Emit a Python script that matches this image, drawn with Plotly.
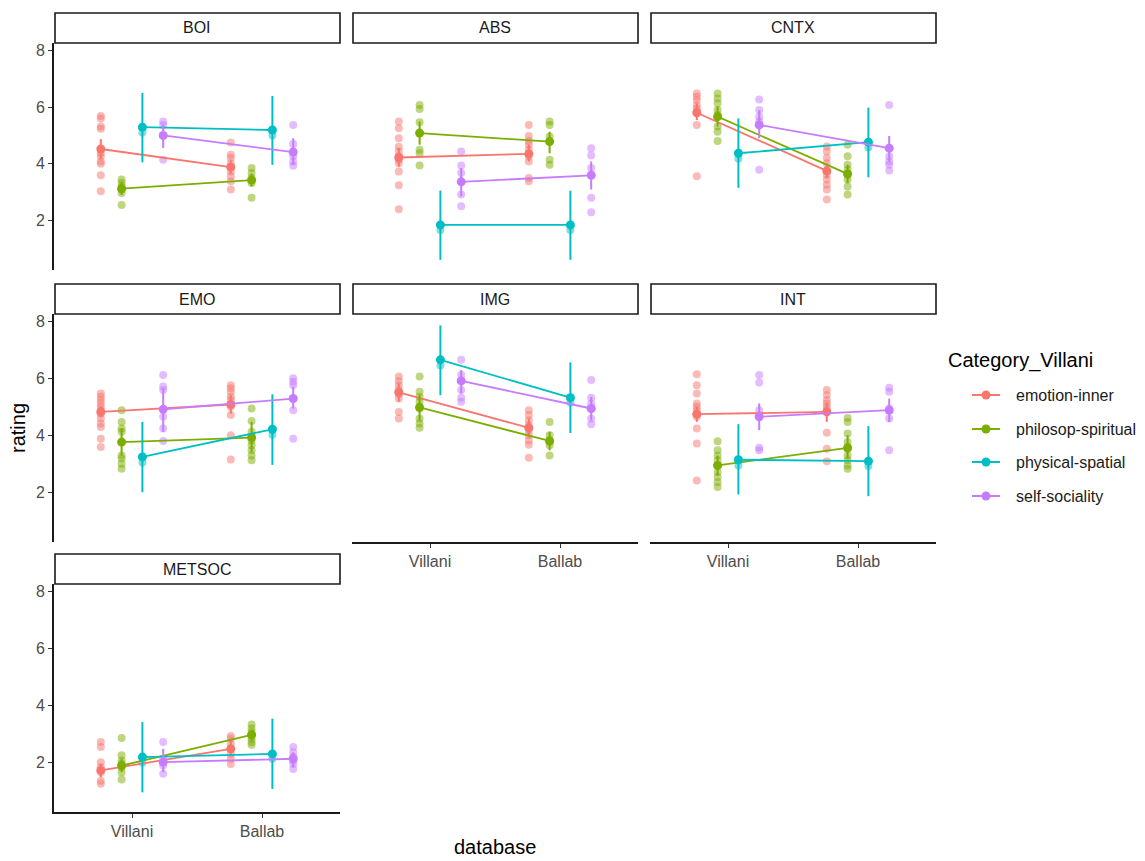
import plotly.graph_objects as go

# ---------------- data ----------------
panels = ["BOI", "ABS", "CNTX", "EMO", "IMG", "INT", "METSOC"]
databases = ["Villani", "Ballab"]
categories = ["emotion-inner", "philosop-spiritual", "physical-spatial", "self-sociality"]
colors = ["#F8766D", "#7CAE00", "#00BFC4", "#C77CFF"]
y_ticks = [2, 4, 6, 8]

# individual ratings per category: (Villani, Ballab)
BOI_ratings = {
    "emotion-inner": ([5.68, 5.60, 5.31, 5.23, 4.37, 4.26, 4.08, 4.00, 3.59, 3.03],
                      [4.75, 4.32, 4.20, 4.02, 3.90, 3.73, 3.56, 3.38, 3.09]),
    "philosop-spiritual": ([3.44, 3.32, 3.20, 3.09, 2.97, 2.54],
                           [3.85, 3.67, 3.50, 3.32, 2.80]),
    "physical-spatial": ([5.29, 5.10], [5.19, 5.00]),
    "self-sociality": ([5.49, 5.37, 4.98, 4.14],
                       [5.37, 4.70, 4.43, 4.26, 4.08, 3.93]),
}
ABS_ratings = {
    "emotion-inner": ([5.49, 5.25, 4.90, 4.60, 4.43, 4.26, 4.14, 4.02, 3.73, 3.24, 2.39],
                      [5.37, 4.98, 4.80, 4.67, 4.49, 4.26, 4.08, 3.50, 3.38]),
    "philosop-spiritual": ([6.07, 5.93, 5.46, 5.08, 4.49, 4.37, 3.94],
                           [5.49, 5.37, 4.96, 4.78, 4.14, 3.96]),
    "physical-spatial": ([1.84, 1.66], [1.84, 1.66]),
    "self-sociality": ([4.43, 3.94, 3.67, 3.36, 2.91, 2.50],
                       [4.55, 4.29, 3.85, 3.61, 2.80, 2.29]),
}
CNTX_ratings = {
    "emotion-inner": ([6.48, 6.36, 6.25, 6.07, 5.95, 5.84, 5.37, 3.56],
                      [4.61, 4.43, 4.20, 4.02, 3.73, 3.61, 3.44, 3.26, 3.09, 2.74]),
    "philosop-spiritual": ([6.48, 6.30, 6.13, 5.90, 5.72, 5.31, 5.13, 4.80],
                           [4.67, 4.26, 3.96, 3.79, 3.61, 3.44, 3.20, 2.91]),
    "physical-spatial": ([4.37, 4.18], [4.76, 4.57]),
    "self-sociality": ([6.27, 5.90, 5.66, 5.49, 5.37, 3.79],
                       [6.07, 4.55, 4.26, 4.08, 3.96, 3.76]),
}
EMO_ratings = {
    "emotion-inner": ([5.47, 5.35, 5.24, 5.12, 5.00, 4.88, 4.76, 4.59, 4.41, 4.29, 3.88, 3.59],
                      [5.76, 5.65, 5.53, 5.35, 5.24, 5.00, 4.71, 4.00, 3.15]),
    "philosop-spiritual": ([4.88, 4.47, 4.24, 4.12, 3.29, 3.18, 3.00, 2.82],
                           [4.94, 4.50, 4.12, 3.82, 3.65, 3.47, 3.29, 3.12]),
    "physical-spatial": ([3.24, 3.04], [4.21, 4.02]),
    "self-sociality": ([6.12, 5.71, 5.59, 4.65, 4.24, 3.80],
                       [6.00, 5.88, 5.76, 5.29, 4.88, 3.88]),
}
IMG_ratings = {
    "emotion-inner": ([6.06, 5.91, 5.76, 5.59, 5.45, 5.29, 4.82, 4.59],
                      [4.88, 4.71, 4.53, 4.35, 4.18, 4.00, 3.82, 3.67, 3.21]),
    "philosop-spiritual": ([6.06, 5.53, 5.35, 5.18, 4.94, 4.59, 4.41, 4.26],
                           [4.47, 4.00, 3.82, 3.65, 3.29]),
    "physical-spatial": ([6.65, 6.45], [5.32, 5.15]),
    "self-sociality": ([6.65, 6.12, 5.91, 5.59, 5.32, 5.18],
                       [5.94, 5.32, 5.12, 4.94, 4.59, 4.39]),
}
INT_ratings = {
    "emotion-inner": ([6.14, 5.76, 5.47, 5.12, 5.00, 4.88, 4.76, 4.65, 4.24, 3.71, 2.41],
                      [5.59, 5.41, 5.24, 5.12, 5.00, 4.88, 4.09, 3.53, 3.09]),
    "philosop-spiritual": ([3.79, 3.47, 3.29, 3.12, 2.94, 2.71, 2.53, 2.35, 2.18],
                           [4.61, 4.47, 4.06, 3.76, 3.53, 3.29, 3.12, 2.94, 2.82]),
    "physical-spatial": ([3.14, 2.94], [3.09, 2.92]),
    "self-sociality": ([6.12, 5.85, 4.88, 4.65, 3.56, 3.47],
                       [5.67, 5.53, 4.94, 4.59, 3.47]),
}
METSOC_ratings = {
    "emotion-inner": ([2.71, 2.53, 2.00, 1.82, 1.65, 1.35, 1.24],
                      [2.92, 2.82, 2.65, 2.47, 2.29, 2.12, 1.94]),
    "philosop-spiritual": ([2.85, 2.24, 2.06, 1.94, 1.82, 1.65, 1.39],
                           [3.32, 3.18, 3.06, 2.94, 2.82, 2.71, 2.61]),
    "physical-spatial": ([2.18, 1.98], [2.29, 2.12]),
    "self-sociality": ([2.71, 2.12, 1.88, 1.59],
                       [2.53, 2.35, 2.18, 2.06, 1.94, 1.76]),
}

# summary per category (rows) and database (Villani, Ballab)
BOI_mean = [[4.52, 3.88], [3.12, 3.42], [5.29, 5.19], [5.00, 4.41]]
BOI_low = [[4.16, 3.65], [2.90, 3.20], [4.05, 3.96], [4.55, 3.96]]
BOI_high = [[4.87, 4.10], [3.35, 3.65], [6.50, 6.39], [5.37, 4.90]]

ABS_mean = [[4.22, 4.35], [5.08, 4.78], [1.84, 1.84], [3.36, 3.59]]
ABS_low = [[3.90, 4.08], [4.67, 4.37], [0.61, 0.61], [2.85, 3.09]]
ABS_high = [[4.55, 4.67], [5.49, 5.13], [3.05, 3.05], [3.85, 4.08]]

CNTX_mean = [[5.80, 3.75], [5.66, 3.64], [4.37, 4.76], [5.37, 4.55]]
CNTX_low = [[5.54, 3.50], [5.31, 3.32], [3.15, 3.52], [4.90, 4.08]]
CNTX_high = [[6.13, 4.02], [6.01, 3.96], [5.60, 5.98], [5.89, 4.98]]

EMO_mean = [[4.82, 5.08], [3.76, 3.92], [3.24, 4.21], [4.91, 5.29]]
EMO_low = [[4.65, 4.76], [3.29, 3.41], [2.00, 2.96], [4.12, 4.94]]
EMO_high = [[5.00, 5.41], [4.24, 4.47], [4.47, 5.44], [5.65, 5.71]]

IMG_mean = [[5.51, 4.26], [4.98, 3.80], [6.65, 5.32], [5.91, 4.94]]
IMG_low = [[5.18, 3.94], [4.53, 3.47], [5.41, 4.08], [5.47, 4.53]]
IMG_high = [[5.82, 4.59], [5.41, 4.12], [7.86, 6.56], [6.29, 5.35]]

INT_mean = [[4.74, 4.82], [2.94, 3.56], [3.14, 3.09], [4.65, 4.88]]
INT_low = [[4.47, 4.47], [2.59, 3.18], [1.92, 1.86], [4.18, 4.47]]
INT_high = [[5.00, 5.12], [3.29, 4.00], [4.39, 4.32], [5.12, 5.29]]

METSOC_mean = [[1.71, 2.47], [1.88, 2.96], [2.18, 2.29], [2.00, 2.12]]
METSOC_low = [[1.47, 2.24], [1.65, 2.76], [0.94, 1.06], [1.65, 1.82]]
METSOC_high = [[1.94, 2.76], [2.12, 3.12], [3.41, 3.53], [2.47, 2.35]]

panel_data = {
    "BOI": (BOI_ratings, BOI_mean, BOI_low, BOI_high),
    "ABS": (ABS_ratings, ABS_mean, ABS_low, ABS_high),
    "CNTX": (CNTX_ratings, CNTX_mean, CNTX_low, CNTX_high),
    "EMO": (EMO_ratings, EMO_mean, EMO_low, EMO_high),
    "IMG": (IMG_ratings, IMG_mean, IMG_low, IMG_high),
    "INT": (INT_ratings, INT_mean, INT_low, INT_high),
    "METSOC": (METSOC_ratings, METSOC_mean, METSOC_low, METSOC_high),
}

# ---------------- layout geometry (pixels) ----------------
W, H = 1145, 861
col_px = [(54, 340), (352, 638), (650, 936)]
row_px = [(43, 270), (314, 542), (584, 812)]
strip_h = 30
grid_pos = {"BOI": (0, 0), "ABS": (1, 0), "CNTX": (2, 0),
            "EMO": (0, 1), "IMG": (1, 1), "INT": (2, 1), "METSOC": (0, 2)}
bottom_axis = {"METSOC", "IMG", "INT"}
dodge_step = 0.16

FONT = "Liberation Sans, Arial, sans-serif"


def fx(p):
    return p / W


def fy(p):
    return 1 - p / H


fig = go.Figure()
layout = {}
shapes = []
annotations = []

for k, name in enumerate(panels):
    idx = k + 1
    xa = "x" if idx == 1 else f"x{idx}"
    ya = "y" if idx == 1 else f"y{idx}"
    c, r = grid_pos[name]
    x0, x1 = col_px[c]
    y0, y1 = row_px[r]
    ratings, means, lows, highs = panel_data[name]

    show_x = name in bottom_axis
    show_y = c == 0
    layout["xaxis" if idx == 1 else f"xaxis{idx}"] = dict(
        domain=[fx(x0), fx(x1)], anchor=ya, range=[0.4, 2.6],
        tickvals=[1, 2], ticktext=databases,
        showticklabels=show_x, ticks="outside" if show_x else "",
        ticklen=4, tickwidth=1.3, tickcolor="#333333",
        showline=show_x, linecolor="#1a1a1a", linewidth=1.6,
        showgrid=False, zeroline=False, fixedrange=True,
        tickfont=dict(family=FONT, size=16, color="#4D4D4D"),
    )
    layout["yaxis" if idx == 1 else f"yaxis{idx}"] = dict(
        domain=[fy(y1), fy(y0)], anchor=xa, range=[0.25, 8.26],
        tickvals=y_ticks,
        showticklabels=show_y, ticks="outside" if show_y else "",
        ticklen=4, tickwidth=1.3, tickcolor="#333333",
        showline=show_y, linecolor="#1a1a1a", linewidth=1.6,
        showgrid=False, zeroline=False, fixedrange=True,
        tickfont=dict(family=FONT, size=16, color="#4D4D4D"),
    )

    # facet strip
    shapes.append(dict(type="rect", xref="paper", yref="paper",
                       x0=fx(x0 + 1), x1=fx(x1), y0=fy(y0), y1=fy(y0 - strip_h),
                       line=dict(color="#1a1a1a", width=1.6), fillcolor="white"))
    annotations.append(dict(text=name, xref="paper", yref="paper",
                            x=fx((x0 + x1) / 2), y=fy(y0 - strip_h / 2),
                            showarrow=False, xanchor="center", yanchor="middle",
                            font=dict(family=FONT, size=16, color="#1A1A1A")))

    # raw ratings
    for ci, cat in enumerate(categories):
        off = (ci - 1.5) * dodge_step
        xs, ys = [], []
        for di, vals in enumerate(ratings[cat]):
            xs += [di + 1 + off] * len(vals)
            ys += vals
        fig.add_trace(go.Scatter(
            x=xs, y=ys, xaxis=xa, yaxis=ya, mode="markers",
            marker=dict(size=8, color=colors[ci], opacity=0.5, line=dict(width=0)),
            showlegend=False, hoverinfo="skip"))

    # means, connecting lines and intervals
    for ci, cat in enumerate(categories):
        off = (ci - 1.5) * dodge_step
        m = means[ci]
        lo = lows[ci]
        hi = highs[ci]
        fig.add_trace(go.Scatter(
            x=[1 + off, 2 + off], y=m, xaxis=xa, yaxis=ya,
            mode="lines+markers",
            line=dict(color=colors[ci], width=1.8),
            marker=dict(size=9, color=colors[ci]),
            error_y=dict(type="data", symmetric=False,
                         array=[hi[0] - m[0], hi[1] - m[1]],
                         arrayminus=[m[0] - lo[0], m[1] - lo[1]],
                         width=0, thickness=2, color=colors[ci]),
            showlegend=False, name=cat))

# axis titles
annotations.append(dict(text="rating", xref="paper", yref="paper",
                        x=fx(18), y=fy(428), textangle=-90, showarrow=False,
                        xanchor="center", yanchor="middle",
                        font=dict(family=FONT, size=20, color="#000000")))
annotations.append(dict(text="database", xref="paper", yref="paper",
                        x=fx(495), y=fy(847), showarrow=False,
                        xanchor="center", yanchor="middle",
                        font=dict(family=FONT, size=20, color="#000000")))

# legend
leg_x_line = (972, 1000)
leg_text_x = 1014
leg_rows = [395, 429, 462, 496]
annotations.append(dict(text="Category_Villani", xref="paper", yref="paper",
                        x=fx(946), y=fy(360), showarrow=False,
                        xanchor="left", yanchor="middle",
                        font=dict(family=FONT, size=20, color="#000000")))
for ci, cat in enumerate(categories):
    yy = leg_rows[ci]
    shapes.append(dict(type="line", xref="paper", yref="paper",
                       x0=fx(leg_x_line[0]), x1=fx(leg_x_line[1]),
                       y0=fy(yy), y1=fy(yy),
                       line=dict(color=colors[ci], width=2)))
    cx = (leg_x_line[0] + leg_x_line[1]) / 2
    shapes.append(dict(type="circle", xref="paper", yref="paper",
                       x0=fx(cx - 4.5), x1=fx(cx + 4.5),
                       y0=fy(yy + 4.5), y1=fy(yy - 4.5),
                       line=dict(width=0), fillcolor=colors[ci]))
    annotations.append(dict(text=cat, xref="paper", yref="paper",
                            x=fx(leg_text_x), y=fy(yy), showarrow=False,
                            xanchor="left", yanchor="middle",
                            font=dict(family=FONT, size=16, color="#1A1A1A")))

fig.update_layout(
    width=W, height=H,
    margin=dict(l=0, r=0, t=0, b=0),
    paper_bgcolor="white", plot_bgcolor="white",
    showlegend=False,
    shapes=shapes, annotations=annotations,
    **layout,
)

fig.write_html("out.html", include_plotlyjs=True, config={"displayModeBar": False})
